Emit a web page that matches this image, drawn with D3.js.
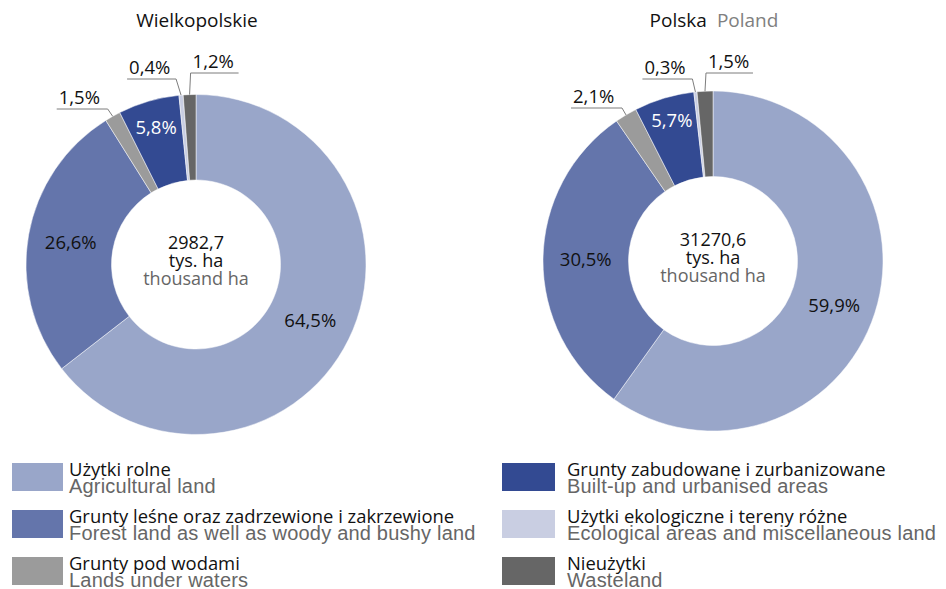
<!DOCTYPE html>
<html><head><meta charset="utf-8">
<script src="https://cdn.jsdelivr.net/npm/d3@7"></script>
<style>
body{margin:0;background:#fff;}
svg{display:block;}
.pl{font-family:"Open Sans",sans-serif;fill:#111;}
.en{font-family:"Liberation Sans",Arial,sans-serif;fill:#666;}
</style></head>
<body>
<svg id="chart" width="946" height="589"></svg>
<script>
const categoriesPL = ["Użytki rolne","Grunty leśne oraz zadrzewione i zakrzewione","Grunty pod wodami","Grunty zabudowane i zurbanizowane","Użytki ekologiczne i tereny różne","Nieużytki"];
const categoriesEN = ["Agricultural land","Forest land as well as woody and bushy land","Lands under waters","Built-up and urbanised areas","Ecological areas and miscellaneous land","Wasteland"];
const wielkopolskieValues = [64.5,26.6,1.5,5.8,0.4,1.2];
const polskaValues = [59.9,30.5,2.1,5.7,0.3,1.5];
const regionTitlesPL = ["Wielkopolskie","Polska"];
const regionTitlesEN = ["","Poland"];
const totals = ["2982,7","31270,6"];
const unitPL = "tys. ha";
const unitEN = "thousand ha";
const colors = ["#99a6c9","#6475ab","#9b9b9b","#334a92","#c9cee2","#666666"];

const svg = d3.select("#chart");
const fmt = v => d3.format(".1f")(v).replace(".", ",") + "%";

const charts = [
  {values: wielkopolskieValues, cx:196, cy:264.5, title:0, agriDy:0, builtDy:0,
   knees:{2:{dx:-5,y:109,len:-51},4:{dx:-5,y:79,len:-49},5:{dx:1,y:73,len:48}}},
  {values: polskaValues, cx:713, cy:261, title:1, agriDy:6, builtDy:-4,
   knees:{2:{dx:-4,y:108,len:-51},4:{dx:-3,y:79,len:-50},5:{dx:1,y:73,len:47}}}
];
const rO = 170, rI = 84.5;
const pie = d3.pie().sort(null).value(d=>d);
const arc = d3.arc().innerRadius(rI).outerRadius(rO);
const anchorArc = d3.arc().innerRadius(rO).outerRadius(rO);
const builtArc = d3.arc().innerRadius(143*2-rO).outerRadius(rO);

charts.forEach(c => {
  const g = svg.append("g").attr("transform",`translate(${c.cx},${c.cy})`);
  const arcs = pie(c.values);
  g.selectAll("path.slice").data(arcs).join("path")
    .attr("class","slice")
    .attr("d",arc)
    .attr("fill",(d,i)=>colors[i])
    .attr("stroke","#fff").attr("stroke-width",0.5);

  // inside labels
  arcs.forEach((d,i)=>{
    if (c.knees[i]) return;
    const p = (i===3 ? builtArc : arc).centroid(d);
    const dy = i===0 ? c.agriDy : (i===3 ? c.builtDy : 0);
    g.append("text").attr("class","pl")
      .attr("x",p[0]).attr("y",p[1]+6.5+dy)
      .attr("text-anchor","middle")
      .attr("font-size",18.5)
      .style("fill", i===3 ? "#fff" : "#111")
      .text(fmt(d.data));
  });
  // outside labels with leaders
  arcs.forEach((d,i)=>{
    const k = c.knees[i]; if (!k) return;
    const a = anchorArc.centroid(d);
    const kx = a[0]+k.dx, ky = k.y - c.cy;
    const ex = kx + k.len;
    g.append("polyline")
      .attr("points",[[a[0],a[1]],[kx,ky],[ex,ky]].map(p=>p.join(",")).join(" "))
      .attr("fill","none").attr("stroke","#7d7d7d").attr("stroke-width",1);
    const left = Math.min(kx,ex);
    g.append("text").attr("class","pl")
      .attr("x",left+2).attr("y",ky-5)
      .attr("font-size",18.5)
      .text(fmt(d.data));
  });
  // center text
  const ct = [[totals[c.title],-15.5],[unitPL,2.5],[unitEN,20.5]];
  ct.forEach((t,j)=>{
    g.append("text").attr("class","pl")
      .attr("x",0).attr("y",t[1])
      .attr("text-anchor","middle").attr("font-size",18)
      .style("fill", j===2 ? "#666" : "#111")
      .text(t[0]);
  });
  // title
  const tt = svg.append("text").attr("class","pl")
    .attr("x",c.cx+1).attr("y",27).attr("text-anchor","middle").attr("font-size",19);
  tt.append("tspan").text(regionTitlesPL[c.title]);
  if (regionTitlesEN[c.title]) tt.append("tspan").attr("dx",10).style("fill","#808080").text(regionTitlesEN[c.title]);
});

// legend
const legendCols = [{x:12,w:51,tx:69},{x:502,w:53,tx:567}];
categoriesPL.forEach((name,i)=>{
  const c = legendCols[Math.floor(i/3)], row = i%3;
  const y = 463 + row*47;
  svg.append("rect").attr("x",c.x).attr("y",y).attr("width",c.w).attr("height",28).attr("fill",colors[i]);
  svg.append("text").attr("class","pl").attr("x",c.tx).attr("y",y+13).attr("font-size",18.4).text(name);
  svg.append("text").attr("class","en").attr("x",c.tx).attr("y",y+29.5).attr("font-size",20)
    .style("letter-spacing","0.2px").text(categoriesEN[i]);
});
</script>
</body></html>
